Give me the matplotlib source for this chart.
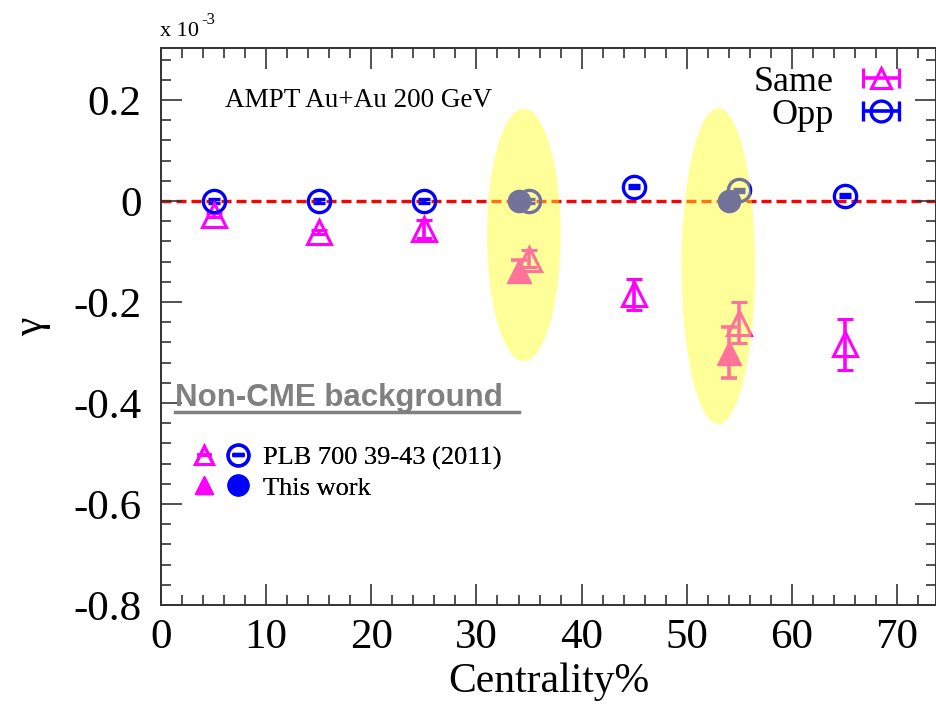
import numpy as np
import matplotlib
matplotlib.use("Agg")
import matplotlib.pyplot as plt
from matplotlib.patches import Ellipse
from matplotlib.container import ErrorbarContainer
from matplotlib.legend_handler import HandlerTuple, HandlerErrorbar
from matplotlib.ticker import MultipleLocator, FuncFormatter

plt.rcParams["font.family"] = ["Liberation Serif", "DejaVu Serif"]

# PLB 700 39-43 (2011), AMPT Au+Au 200 GeV (units of 1e-3)
cent = [5, 15, 25, 35, 45, 55, 65]
same_plb = [-0.027, -0.061, -0.056, -0.114, -0.185, -0.241, -0.284]
same_plb_err = [0.004, 0.004, 0.018, 0.017, 0.031, 0.041, 0.050]
opp_plb = [0.0, 0.0, 0.0, 0.0, 0.028, 0.021, 0.010]
opp_plb_err = [0.003, 0.003, 0.003, 0.003, 0.003, 0.003, 0.003]

# this work
cent_new = [34, 54]
same_new = [-0.138, -0.300]
same_new_err = [0.021, 0.050]
opp_new = [0.0, 0.0]
opp_new_err = [0.002, 0.002]

# highlighted regions
ell_x = [34.5, 53.0]
ell_y = [-0.067, -0.129]
ell_w = [7.0, 7.0]
ell_h = [0.50, 0.625]

MAG = "#ff00ff"
BLUE = "#0000ff"

fig = plt.figure(figsize=(9.36, 7.08), dpi=100)
ax = fig.add_axes([161 / 936, 1 - 605 / 708, 775 / 936, 557 / 708])

ax.axhline(0, color="#ff0000", lw=2.4, ls=(0, (3, 1.5)), zorder=1)

ax.errorbar(cent, same_plb, yerr=same_plb_err, fmt="^", ms=17, mfc="none",
            mec=MAG, mew=2.2, ecolor=MAG, elinewidth=2.6, capsize=6, capthick=2.6, zorder=3)
ax.errorbar(cent, opp_plb, yerr=opp_plb_err, fmt="o", ms=16, mfc="none",
            mec=BLUE, mew=2.4, ecolor=BLUE, elinewidth=2.6, capsize=4, capthick=2.6, zorder=3)
ax.errorbar(cent_new, same_new, yerr=same_new_err, fmt="^", ms=17, mfc=MAG,
            mec=MAG, ecolor=MAG, elinewidth=2.6, capsize=6, capthick=2.6, zorder=3)
ax.errorbar(cent_new, opp_new, yerr=opp_new_err, fmt="o", ms=16, mfc=BLUE,
            mec=BLUE, ecolor=BLUE, elinewidth=2.6, capsize=4, capthick=2.6, zorder=3)

for x, y, w, h in zip(ell_x, ell_y, ell_w, ell_h):
    ax.add_patch(Ellipse((x, y), w, h, facecolor="#ffff20", edgecolor="none",
                         alpha=0.45, zorder=5))

ax.set_xlim(0, 73.7)
ax.set_ylim(-0.8, 0.303)
ax.xaxis.set_major_locator(MultipleLocator(10))
ax.xaxis.set_minor_locator(MultipleLocator(2))
ax.yaxis.set_major_locator(MultipleLocator(0.2))
ax.yaxis.set_minor_locator(MultipleLocator(0.04))
ax.yaxis.set_major_formatter(FuncFormatter(lambda v, p: "0" if abs(v) < 1e-9 else f"{v:.1f}"))
ax.tick_params(which="both", direction="in", top=True, right=True, color="#333333",
               labelsize=31, width=1.2)
ax.tick_params(which="major", length=15, pad=10)
ax.tick_params(which="minor", length=7)
ax.tick_params(axis="y", which="major", pad=14)
for s in ax.spines.values():
    s.set_color("#333333")
    s.set_linewidth(1.4)

ax.set_xlabel("Centrality%", fontsize=30, labelpad=4)
ax.set_ylabel("γ", fontsize=30, labelpad=16)

fig.text(160 / 936, 1 - 36 / 708, "x 10", fontsize=16)
fig.text(201 / 936, 1 - 24 / 708, "-3", fontsize=12)

ax.text(0.083, 0.905, "AMPT Au+Au 200 GeV", transform=ax.transAxes, fontsize=19.5, va="center")

ax.text(0.018, 0.371, "Non-CME background", transform=ax.transAxes, fontsize=22.5,
        fontweight="bold", color="#808080", family="Liberation Sans", va="center")
ax.plot([0.018, 0.462], [0.346, 0.346], transform=ax.transAxes, color="#808080", lw=2.5)

# top-right legend
h_same = ax.errorbar([np.nan], [np.nan], xerr=[1], fmt="^", ms=15, mfc="none", mec=MAG,
                     mew=2.2, ecolor=MAG, elinewidth=2.6, capsize=7, capthick=2.6)
h_opp = ax.errorbar([np.nan], [np.nan], xerr=[1], fmt="o", ms=15, mfc="none", mec=BLUE,
                    mew=2.4, ecolor=BLUE, elinewidth=2.6, capsize=7, capthick=2.6)
leg1 = ax.legend([h_same, h_opp], ["Same", "Opp"], loc="upper right", markerfirst=False,
                 frameon=False, fontsize=26, handlelength=1.6, handletextpad=0.5,
                 labelspacing=0.0, borderaxespad=0.0, bbox_to_anchor=(0.985, 0.995))
ax.add_artist(leg1)

# lower-left legend
tri_o = ax.errorbar([np.nan], [np.nan], yerr=[1], fmt="^", ms=13, mfc="none", mec=MAG,
                    mew=2.2, ecolor=MAG, elinewidth=2.4, capsize=5, capthick=2.4)
cir_o = ax.errorbar([np.nan], [np.nan], yerr=[1], fmt="o", ms=15, mfc="none", mec=BLUE,
                    mew=2.4, ecolor=BLUE, elinewidth=2.4, capsize=4, capthick=2.4)
tri_f = ax.plot([], [], "^", ms=13, mfc=MAG, mec=MAG)[0]
cir_f = ax.plot([], [], "o", ms=15, mfc=BLUE, mec=BLUE)[0]
leg2 = ax.legend([(tri_o, cir_o), (tri_f, cir_f)],
                 ["PLB 700 39-43 (2011)", "This work"],
                 handler_map={tuple: HandlerTuple(ndivide=None, pad=0.6),
                              ErrorbarContainer: HandlerErrorbar(yerr_size=0.02)},
                 loc="upper left", bbox_to_anchor=(0.03, 0.305), frameon=False,
                 fontsize=19, handlelength=2.0, handletextpad=0.6, labelspacing=0.25,
                 borderaxespad=0.0)
ax.add_artist(leg2)

fig.savefig("out.png", dpi=100)
